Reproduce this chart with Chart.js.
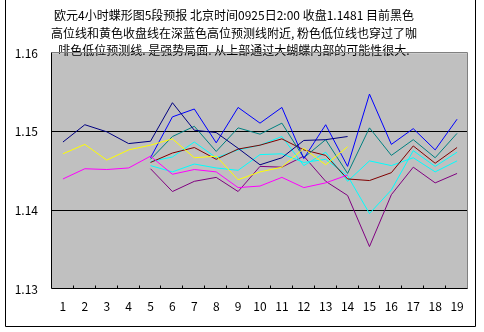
<!DOCTYPE html>
<html>
<head>
<meta charset="utf-8">
<script src="https://cdn.jsdelivr.net/npm/chart.js@4.4.1/dist/chart.umd.min.js"></script>
<style>
  html, body { margin: 0; padding: 0; background: #fff; }
  #wrap { width: 484px; height: 332px; }
</style>
</head>
<body>
<div id="wrap"><canvas id="chart" width="484" height="332"></canvas></div>
<script>
// categories (4h bars)
const labels = ['1', '2', '3', '4', '5', '6', '7', '8', '9', '10', '11', '12', '13', '14', '15', '16', '17', '18', '19'];
const yTicks = [1.13, 1.14, 1.15, 1.16];

const titleLines = [
  '欧元4小时蝶形图5段预报 北京时间0925日2:00 收盘1.1481 目前黑色',
  '高位线和黄色收盘线在深蓝色高位预测线附近, 粉色低位线也穿过了咖',
  '啡色低位预测线. 是强势局面. 从上部通过大蝴蝶内部的可能性很大.'
];

// actual lines
const highLine  = [1.1487, 1.1509, 1.1500, 1.1485, 1.1488, 1.1537, 1.1502, 1.1499, 1.1479, 1.1458, 1.1467, 1.1489, 1.1490, 1.1494, null, null, null, null, null];
const closeLine = [1.1472, 1.1484, 1.1464, 1.1477, 1.1483, 1.1491, 1.1467, 1.1469, 1.1439, 1.1449, 1.1455, 1.1479, 1.1458, 1.1481, null, null, null, null, null];
const lowLine   = [1.1440, 1.1453, 1.1452, 1.1454, 1.1469, 1.1446, 1.1452, 1.1449, 1.1429, 1.1431, 1.1442, 1.1429, 1.1435, 1.1445, null, null, null, null, null];

// forecast lines (start at bar 5)
const highForecast  = [null, null, null, null, 1.1467, 1.1519, 1.1529, 1.1486, 1.1531, 1.1511, 1.1531, 1.1466, 1.1509, 1.1456, 1.1548, 1.1484, 1.1504, 1.1477, 1.1516];
const upperForecast = [null, null, null, null, 1.1465, 1.1494, 1.1507, 1.1475, 1.1505, 1.1497, 1.1511, 1.1467, 1.1490, 1.1447, 1.1505, 1.1470, 1.1490, 1.1467, 1.1498];
const lowForecast   = [null, null, null, null, 1.1461, 1.1473, 1.1480, 1.1465, 1.1478, 1.1483, 1.1491, 1.1477, 1.1470, 1.1440, 1.1438, 1.1448, 1.1482, 1.1460, 1.1480];
const midForecastA  = [null, null, null, null, 1.1462, 1.1468, 1.1487, 1.1467, 1.1477, 1.1483, 1.1494, 1.1457, 1.1474, 1.1437, 1.1463, 1.1457, 1.1467, 1.1449, 1.1463];
const midForecastB  = [null, null, null, null, 1.1457, 1.1449, 1.1459, 1.1454, 1.1451, 1.1471, 1.1472, 1.1461, 1.1465, 1.1444, 1.1396, 1.1426, 1.1476, 1.1456, 1.1474];
const bottomForecast = [null, null, null, null, 1.1453, 1.1424, 1.1437, 1.1442, 1.1424, 1.1456, 1.1455, 1.1469, 1.1437, 1.1419, 1.1354, 1.1420, 1.1455, 1.1435, 1.1447];

const FONT = '"Noto Sans CJK SC", "Noto Sans", sans-serif';

function line(data, color) {
  return {
    data: data,
    borderColor: color,
    borderWidth: 1,
    pointRadius: 0,
    tension: 0,
    fill: false
  };
}

// grey plot area, frame and little x ticks
const plotFrame = {
  id: 'plotFrame',
  beforeDraw(chart) {
    const { ctx, chartArea: a } = chart;
    ctx.save();
    ctx.strokeStyle = '#000';
    ctx.lineWidth = 1;
    ctx.beginPath();
    ctx.moveTo(5.5, 0);
    ctx.lineTo(5.5, 326.5);
    ctx.lineTo(475.5, 326.5);
    ctx.lineTo(475.5, 0);
    ctx.stroke();
    ctx.fillStyle = '#c0c0c0';
    ctx.fillRect(a.left, a.top, a.right - a.left, a.bottom - a.top);
    ctx.restore();
  },
  afterDatasetsDraw(chart) {
    const { ctx, chartArea: a } = chart;
    const xs = chart.scales.x;
    const l = Math.round(a.left) - 0.5, r = Math.round(a.right) - 0.5;
    const t = Math.round(a.top) - 0.5, b = Math.round(a.bottom) - 0.5;
    ctx.save();
    ctx.lineWidth = 1;
    ctx.strokeStyle = '#808080';
    ctx.beginPath();
    ctx.moveTo(l, t); ctx.lineTo(r, t); ctx.lineTo(r, b);
    ctx.stroke();
    ctx.strokeStyle = '#000';
    ctx.beginPath();
    ctx.moveTo(l, t); ctx.lineTo(l, b); ctx.lineTo(r, b);
    for (let i = 0; i < labels.length - 1; i++) {
      const x = Math.round((xs.getPixelForValue(i) + xs.getPixelForValue(i + 1)) / 2) - 0.5;
      ctx.moveTo(x, b);
      ctx.lineTo(x, b - 3);
    }
    ctx.stroke();
    ctx.restore();
  }
};

new Chart(document.getElementById('chart'), {
  type: 'line',
  data: {
    labels: labels,
    datasets: [
      line(highLine, '#000080'),
      line(closeLine, '#ffff00'),
      line(lowLine, '#ff00ff'),
      line(highForecast, '#0000ff'),
      line(upperForecast, '#008080'),
      line(lowForecast, '#800000'),
      line(midForecastA, '#00ffff'),
      line(midForecastB, '#00ffff'),
      line(bottomForecast, '#800080')
    ]
  },
  options: {
    responsive: false,
    animation: false,
    devicePixelRatio: 1,
    layout: {
      padding: { left: 0, right: 16, top: 0, bottom: 0 }
    },
    scales: {
      x: {
        offset: true,
        grid: { display: false },
        border: { display: false },
        ticks: {
          color: '#000',
          padding: 2,
          maxRotation: 0,
          autoSkip: false,
          font: { family: FONT, size: 12 }
        },
        afterFit(scale) { scale.height = 43; }
      },
      y: {
        min: 1.13,
        max: 1.16,
        afterBuildTicks(scale) {
          scale.ticks = yTicks.map(v => ({ value: v }));
        },
        grid: {
          drawTicks: false,
          color: c => (c.index === 1 || c.index === 2) ? '#000' : 'rgba(0,0,0,0)',
          lineWidth: 1
        },
        border: { display: false },
        ticks: {
          color: '#000',
          padding: 14,
          font: { family: FONT, size: 12 },
          callback: v => Number(v).toFixed(2)
        },
        afterFit(scale) { scale.width = 52; }
      }
    },
    plugins: {
      legend: { display: false },
      tooltip: { enabled: false },
      title: {
        display: true,
        text: titleLines,
        color: '#000',
        font: { family: FONT, size: 12, weight: 'normal', lineHeight: 1.45 },
        padding: { top: 7, bottom: -6 }
      }
    }
  },
  plugins: [plotFrame]
});
</script>
</body>
</html>
